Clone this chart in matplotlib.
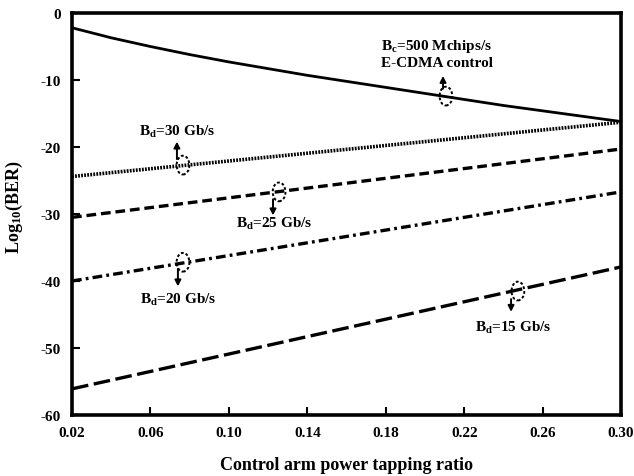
import numpy as np
import matplotlib.pyplot as plt
from matplotlib.patches import Ellipse

plt.rcParams['font.family'] = 'Liberation Serif'
plt.rcParams['font.weight'] = 'bold'
plt.rcParams['mathtext.fontset'] = 'custom'
plt.rcParams['mathtext.rm'] = 'Liberation Serif:bold'
plt.rcParams['mathtext.bf'] = 'Liberation Serif:bold'
plt.rcParams['mathtext.it'] = 'Liberation Serif:bold'
plt.rcParams['lines.scale_dashes'] = False

# Control arm power tapping ratio
ratio = [0.02, 0.04, 0.06, 0.08, 0.10, 0.12, 0.14, 0.16,
         0.18, 0.20, 0.22, 0.24, 0.26, 0.28, 0.30]
# E-CDMA control, Bc = 500 Mchips/s
ber_control = [-2.2, -3.7, -5.0, -6.2, -7.3, -8.3, -9.3, -10.2,
               -11.1, -12.0, -12.9, -13.8, -14.6, -15.4, -16.2]
# data channel end points (straight lines)
ratio_ends = [0.02, 0.30]
ber_30 = [-24.4, -16.3]
ber_25 = [-30.5, -20.3]
ber_20 = [-40.0, -26.7]
ber_15 = [-56.1, -37.9]

xticks = [0.02, 0.06, 0.10, 0.14, 0.18, 0.22, 0.26, 0.30]
yticks = [0, -10, -20, -30, -40, -50, -60]

fig = plt.figure(figsize=(6.34, 4.77), dpi=100)
ax = fig.add_axes([0.1136, 0.1279, 0.866, 0.8427])

ax.plot(ratio, ber_control, "-", color="black", linewidth=2)
ax.plot(ratio_ends, ber_30, color="black", linewidth=2.6, dashes=(1.3, 0.9))
ax.plot(ratio_ends, ber_25, color="black", linewidth=2.4, dashes=(7, 3.5))
ax.plot(ratio_ends, ber_20, color="black", linewidth=2.4, dashes=(7, 3, 2, 3))
ax.plot(ratio_ends, ber_15, color="black", linewidth=2.4, dashes=(12, 4))

ax.set_xlim(0.02, 0.30)
ax.set_ylim(-60, 0)
ax.set_xticks(xticks)
ax.set_xticklabels([f"{t:.2f}" for t in xticks])
ax.set_yticks(yticks)
ax.set_yticklabels([str(t) for t in yticks])
ax.tick_params(direction="in", length=6, width=1.5, labelsize=11, pad=8,
               top=False, right=False)
for s in ax.spines.values():
    s.set_linewidth(2.6)

ax.set_xlabel("Control arm power tapping ratio", fontsize=13, fontweight="bold", labelpad=12)
ax.set_ylabel(r"Log$_{10}$(BER)", fontsize=13, fontweight="bold")
ax.yaxis.set_label_coords(-0.086, 0.52)

# (text x, text y, ellipse x, ellipse y, arrow x, arrow start y, arrow end y, label)
notes = [
    (0.2061, -6.0, 0.2107, -12.4, 0.2092, -11.3, -9.4, "B$_c$=500 Mchips/s\nE-CDMA control"),
    (0.0735, -17.6, 0.0766, -22.7, 0.0735, -21.8, -19.2, "B$_d$=30 Gb/s"),
    (0.1230, -31.3, 0.1256, -26.7, 0.1225, -27.8, -30.2, "B$_d$=25 Gb/s"),
    (0.0740, -42.7, 0.0766, -37.2, 0.0740, -38.2, -40.8, "B$_d$=20 Gb/s"),
    (0.2449, -46.9, 0.2474, -41.5, 0.2439, -42.7, -44.6, "B$_d$=15 Gb/s"),
]
for tx, ty, ex, ey, axx, ay0, ay1, label in notes:
    ax.text(tx, ty, label, ha="center", va="center", fontsize=11,
            fontweight="bold", linespacing=1.2)
    ax.add_patch(Ellipse((ex, ey), 0.0065, 2.8, fill=False, linestyle=(0, (2, 1.5)),
                         linewidth=1.4, edgecolor="black"))
    ax.annotate("", xy=(axx, ay1), xytext=(axx, ay0),
                arrowprops=dict(arrowstyle="-|>,head_length=0.35,head_width=0.18",
                                lw=1.4, color="black", shrinkA=0, shrinkB=0))

plt.savefig("out.png", dpi=100)
plt.close()
